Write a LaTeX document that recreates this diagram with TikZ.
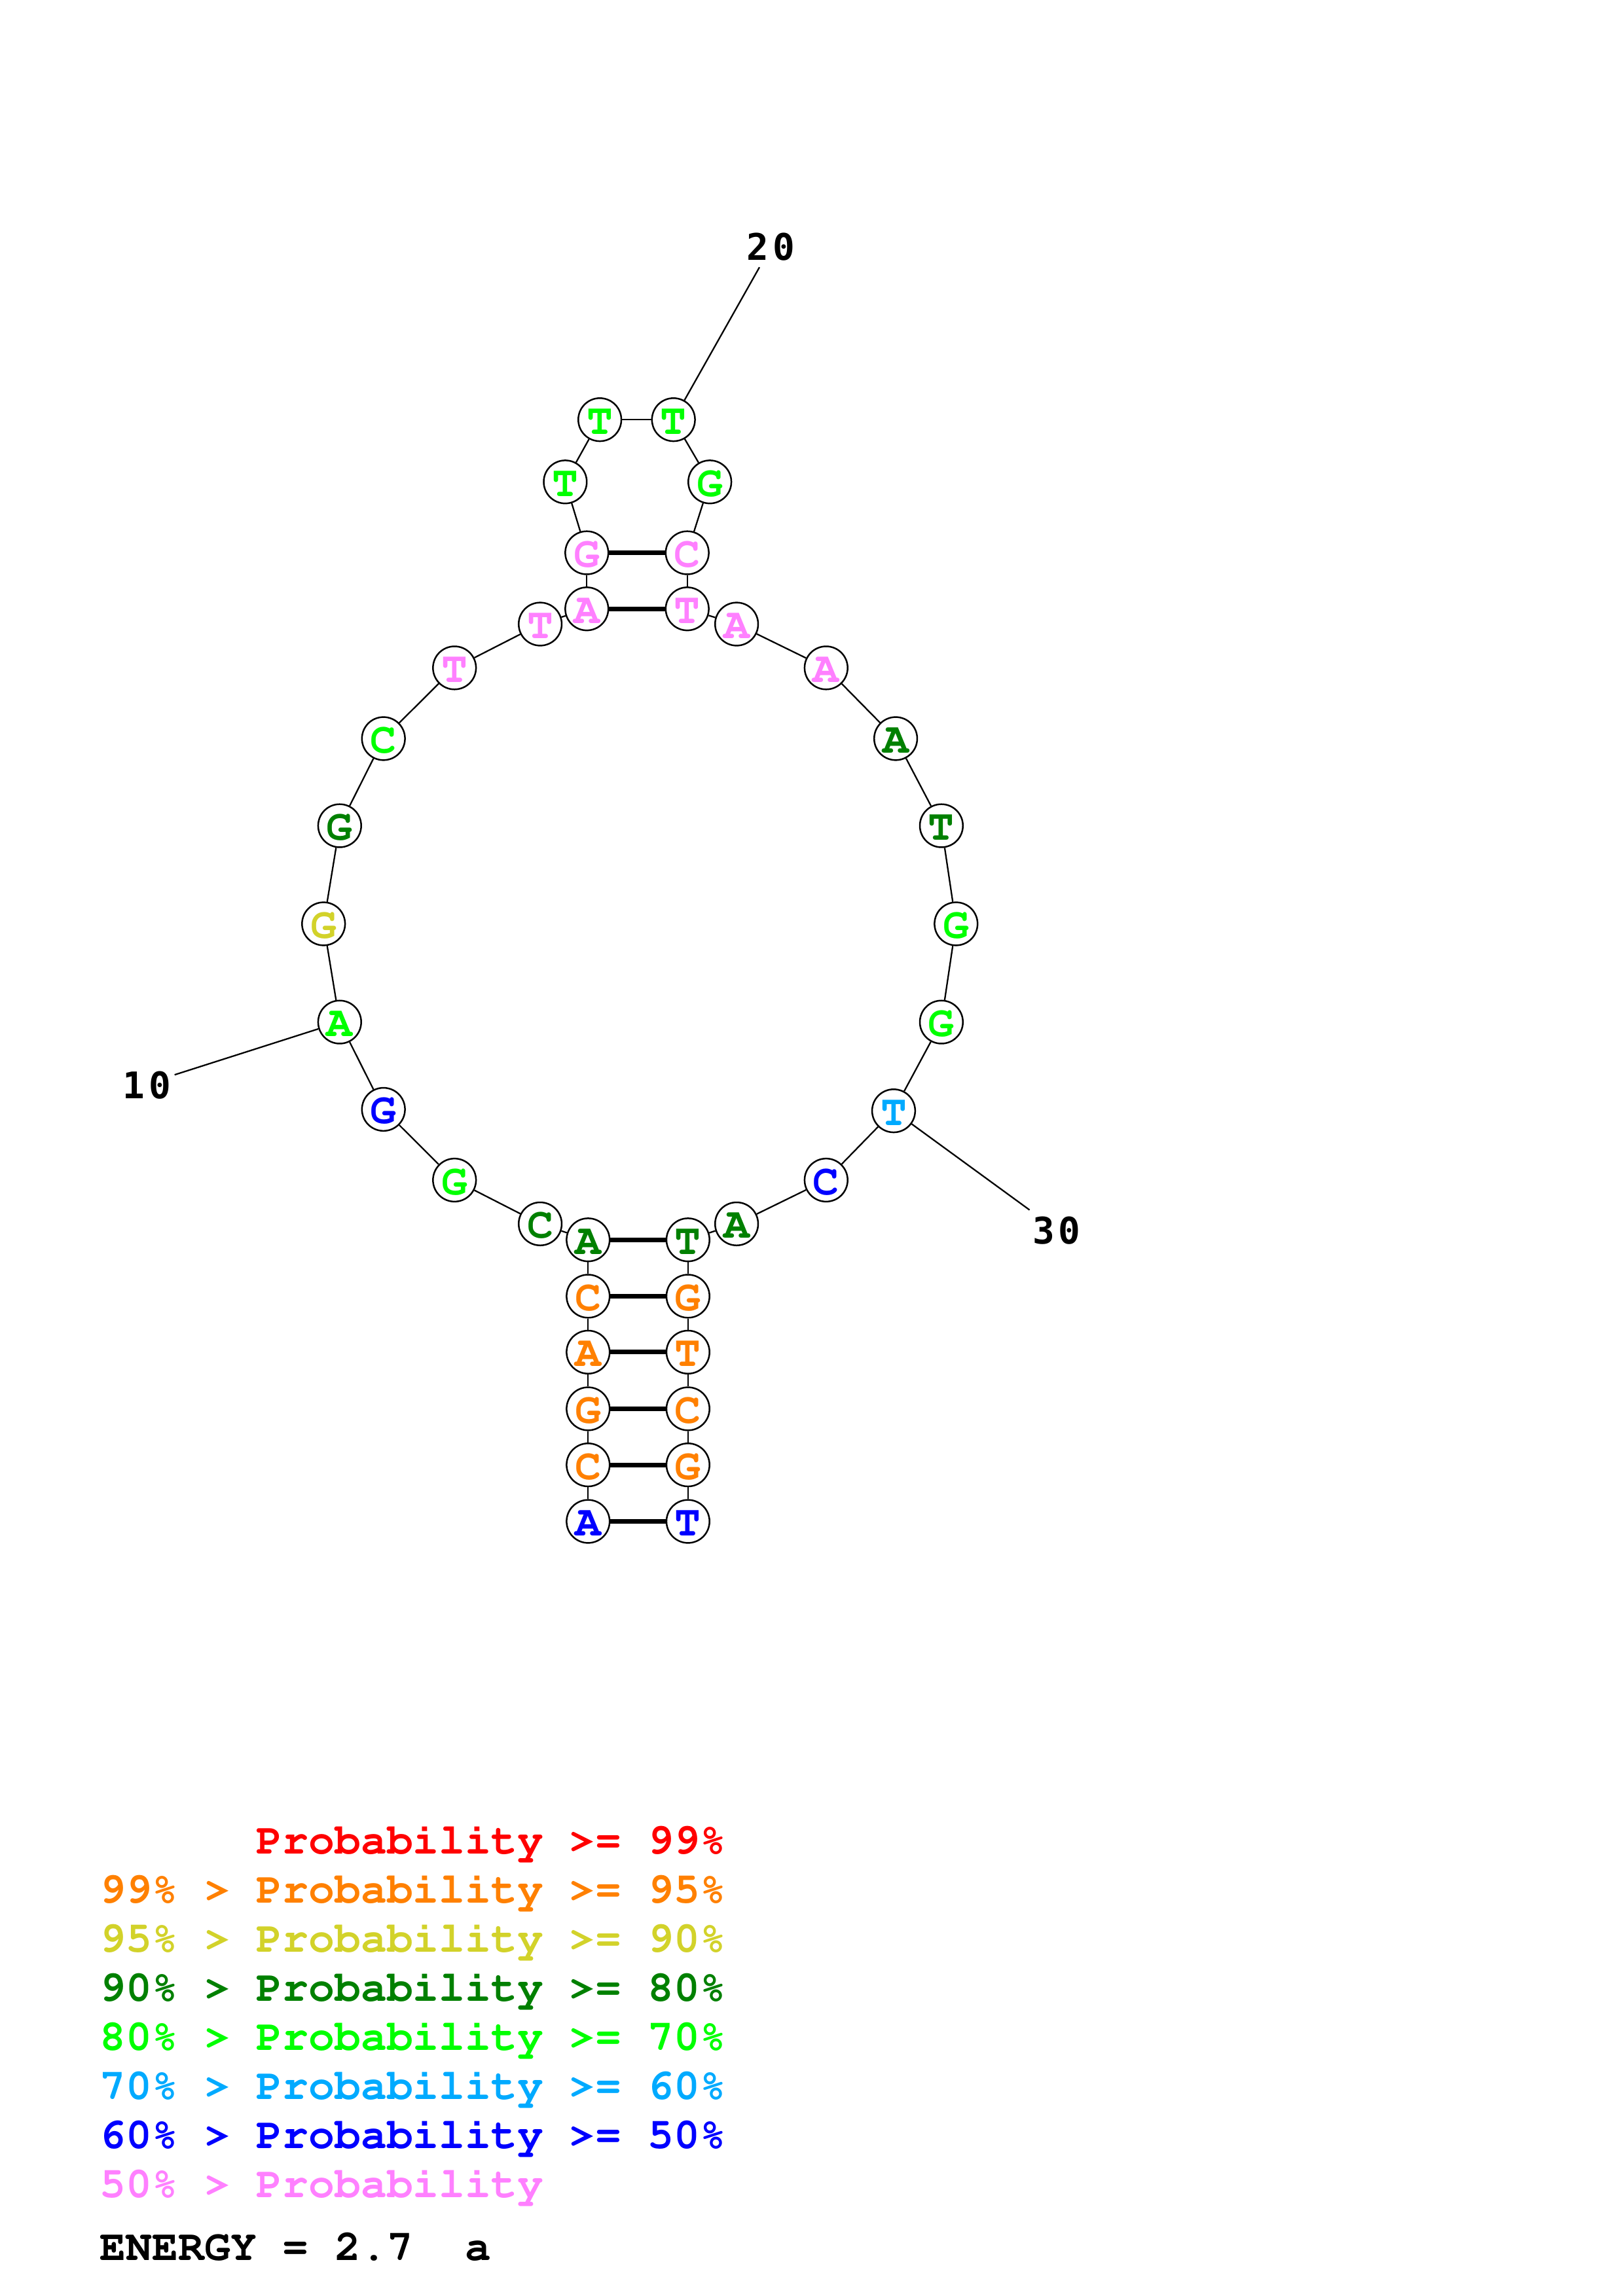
\documentclass[tikz,border=0pt]{standalone}
\usepackage[T1]{fontenc}
\usepackage{fontspec}
\newfontfamily\numfont{DejaVu Sans Mono}[LetterSpace=11]
\newcommand{\courbf}{\fontencoding{T1}\fontfamily{pcr}\fontseries{b}\fontshape{n}\fontsize{16pt}{16pt}\selectfont}
\definecolor{prob99}{RGB}{255,0,0}
\definecolor{prob95}{RGB}{255,128,0}
\definecolor{prob90}{RGB}{210,210,42}
\definecolor{prob80}{RGB}{0,128,0}
\definecolor{prob70}{RGB}{0,255,0}
\definecolor{prob60}{RGB}{0,170,255}
\definecolor{prob50}{RGB}{0,0,255}
\definecolor{problow}{RGB}{255,128,255}

\begin{document}
\begin{tikzpicture}[x=0.018953cm,y=-0.018953cm,
	nt/.style={circle,draw,line width=0.6pt,fill=white,inner sep=0pt,minimum size=0.557cm,font=\courbf,text height=10.6pt,text depth=0pt},
	bb/.style={line width=0.55pt},
	bond/.style={line width=1.7pt},
	num/.style={inner sep=0pt,text height=9.8pt,text depth=0pt,font=\numfont\bfseries\fontsize{13.5pt}{13.5pt}\selectfont},
	leg/.style={anchor=base west,inner sep=0pt,font=\courbf}]
	\useasboundingbox (0,0) rectangle (1108,1568);
	% bases, 5' to 3'
	\foreach \i/\x/\y/\b/\c in {
		1/401.5/1039.0/A/prob50, 2/401.5/1000.4/C/prob95, 3/401.5/962.1/G/prob95, 4/401.5/923.4/A/prob95,
		5/401.5/885.2/C/prob95, 6/401.5/846.7/A/prob80, 7/368.8/835.8/C/prob80, 8/310.3/805.9/G/prob70,
		9/261.8/757.6/G/prob50, 10/231.9/698.0/A/prob70, 11/220.9/630.9/G/prob90, 12/231.9/563.9/G/prob80,
		13/261.8/504.4/C/prob70, 14/310.3/456.1/T/problow, 15/368.8/426.2/T/problow, 16/400.6/415.8/A/problow,
		17/400.6/377.5/G/problow, 18/385.9/329.1/T/prob70, 19/409.5/286.6/T/prob70, 20/459.8/286.6/T/prob70,
		21/484.6/329.1/G/prob70, 22/469.2/377.5/C/problow, 23/469.2/415.8/T/problow, 24/502.9/426.2/A/problow,
		25/564.0/456.1/A/problow, 26/611.5/504.4/A/prob80, 27/642.7/563.9/T/prob80, 28/652.7/630.9/G/prob70,
		29/642.7/698.0/G/prob70, 30/610.1/758.6/T/prob60, 31/564.0/805.9/C/prob50, 32/502.9/835.8/A/prob80,
		33/469.7/846.7/T/prob80, 34/469.7/885.2/G/prob95, 35/469.7/923.4/T/prob95, 36/469.7/962.1/C/prob95,
		37/469.7/1000.4/G/prob95, 38/469.7/1039.0/T/prob50}
		\node[nt,text=\c] (n\i) at (\x,\y) {\b};
	% backbone
	\foreach \i [evaluate=\i as \j using int(\i+1)] in {1,...,37}
		\draw[bb] (n\i) -- (n\j);
	% base pairs
	\path[bond]
	(n1) edge (n38)
	(n2) edge (n37)
	(n3) edge (n36)
	(n4) edge (n35)
	(n5) edge (n34)
	(n6) edge (n33)
	(n16) edge (n23)
	(n17) edge (n22);
	% numbering
	\coordinate (t10) at (119.2,734.0);
	\coordinate (t20) at (518.5,182.5);
	\coordinate (t30) at (702.9,826.3);
	\draw[bb] (n10) -- (t10) (n20) -- (t20) (n30) -- (t30);
	\node[num] (l10) at (100.3,741.0) {10};
	\node[num] (l20) at (526.2,168.7) {20};
	\node[num] (l30) at (721.4,840.3) {30};
	% legend
	\node[leg,prob99] (leg1) at (68,1266.1) {\phantom{99\% > }Probability >= 99\%};
	\node[leg,prob95] (leg2) at (68,1299.6) {99\% > Probability >= 95\%};
	\node[leg,prob90] (leg3) at (68,1333.1) {95\% > Probability >= 90\%};
	\node[leg,prob80] (leg4) at (68,1366.6) {90\% > Probability >= 80\%};
	\node[leg,prob70] (leg5) at (68,1400.1) {80\% > Probability >= 70\%};
	\node[leg,prob60] (leg6) at (68,1433.6) {70\% > Probability >= 60\%};
	\node[leg,prob50] (leg7) at (68,1467.1) {60\% > Probability >= 50\%};
	\node[leg,problow] (leg8) at (68,1500.6) {50\% > Probability};
	\node[leg] (energy) at (68,1543.5) {ENERGY = 2.7\ \ a};
\end{tikzpicture}
\end{document}
